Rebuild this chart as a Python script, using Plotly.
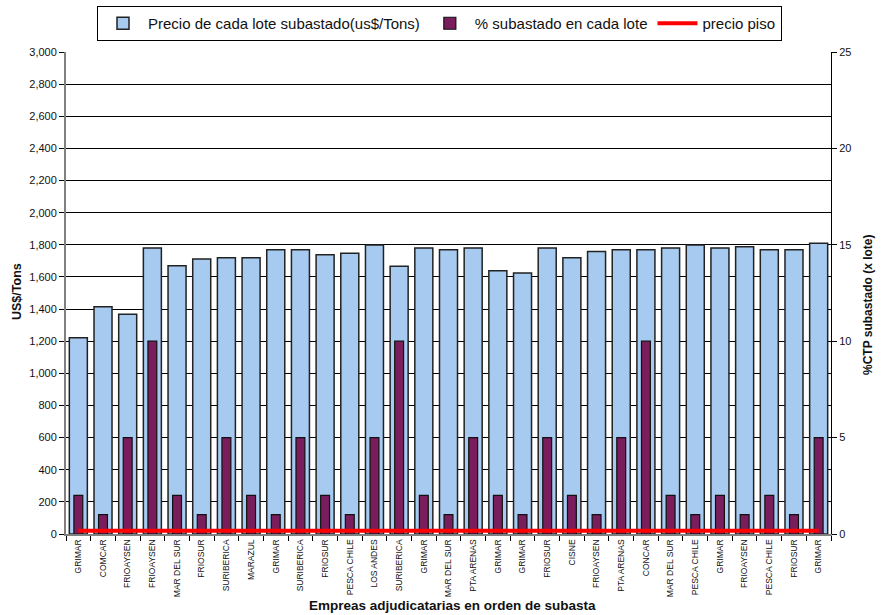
import plotly.graph_objects as go

# Auction lots in order, with the winning company of each lot
empresas = [
    "GRIMAR", "COMCAR", "FRIOAYSEN", "FRIOAYSEN", "MAR DEL SUR", "FRIOSUR",
    "SURIBERICA", "MARAZUL", "GRIMAR", "SURIBERICA", "FRIOSUR", "PESCA CHILE",
    "LOS ANDES", "SURIBERICA", "GRIMAR", "MAR DEL SUR", "PTA ARENAS", "GRIMAR",
    "GRIMAR", "FRIOSUR", "CISNE", "FRIOAYSEN", "PTA ARENAS", "CONCAR",
    "MAR DEL SUR", "PESCA CHILE", "GRIMAR", "FRIOAYSEN", "PESCA CHILE",
    "FRIOSUR", "GRIMAR",
]

# Price of each auctioned lot (US$/Tons)
precio_lote = [
    1221, 1415, 1367, 1780, 1669, 1711, 1719, 1719, 1769, 1769, 1738, 1748,
    1798, 1667, 1780, 1769, 1780, 1638, 1625, 1780, 1719, 1759, 1769, 1769,
    1780, 1798, 1780, 1788, 1769, 1769, 1809,
]

# Share of the quota auctioned in each lot (%)
pct_lote = [
    2, 1, 5, 10, 2, 1, 5, 2, 1, 5, 2, 1, 5, 10, 2, 1, 5, 2, 1, 5, 2, 1, 5, 10,
    2, 1, 2, 1, 2, 1, 5,
]

# Floor price (US$/Tons)
precio_piso = [20] * len(empresas)

x = list(range(len(empresas)))
FONT = "Liberation Sans, Arial, sans-serif"

fig = go.Figure()
fig.add_trace(go.Bar(
    x=x, y=precio_lote, name="Precio de cada lote subastado(us$/Tons)",
    width=0.73, marker=dict(color="#A6CAF0", line=dict(color="#222222", width=1.5)),
    yaxis="y",
))
fig.add_trace(go.Bar(
    x=x, y=pct_lote, name="% subastado en cada lote",
    width=0.36, marker=dict(color="#7A1D5C", line=dict(color="#111111", width=1.2)),
    yaxis="y2",
))
fig.add_trace(go.Scatter(
    x=x, y=precio_piso, name="precio piso", mode="lines",
    line=dict(color="#FF0000", width=4), yaxis="y3",
))

W, H = 881, 615
L, R, T, B = 66, 50, 52, 81
pw, ph = W - L - R, H - T - B


def px_x(v):
    return (v - L) / pw


def px_y(v):
    return (H - B - v) / ph


fig.update_layout(
    width=W, height=H,
    margin=dict(l=L, r=R, t=T, b=B, autoexpand=False),
    paper_bgcolor="white", plot_bgcolor="white",
    font=dict(family=FONT, color="#111111"),
    barmode="overlay",
    showlegend=True,
    legend=dict(
        orientation="h", x=439.5 / W, xref="container", xanchor="center",
        y=1 - 6 / H, yref="container", yanchor="top",
        bordercolor="black", borderwidth=1, bgcolor="white",
        font=dict(size=15, family=FONT), traceorder="normal",
        itemwidth=40, tracegroupgap=0,
    ),
    xaxis=dict(
        range=[-0.5, len(empresas) - 0.5], tickmode="array", tickvals=x,
        ticktext=empresas, tickangle=-90, ticks="", showgrid=False,
        tickfont=dict(size=8.5, family=FONT), zeroline=False,
        showline=True, linecolor="#808080", linewidth=2,
        minor=dict(tickmode="linear", tick0=-0.5, dtick=1, ticks="outside",
                   ticklen=5, tickcolor="black", tickwidth=1, showgrid=False),
    ),
    yaxis=dict(
        range=[0, 3000], dtick=200, tickformat=",d", showgrid=True,
        gridcolor="black", gridwidth=1, zeroline=False, showline=True,
        linecolor="#808080", linewidth=2, ticks="outside", ticklen=5,
        tickcolor="black", tickfont=dict(size=11, family=FONT),
    ),
    yaxis2=dict(
        range=[0, 25], dtick=5, overlaying="y", side="right", showgrid=False,
        zeroline=False, showline=True, linecolor="black", linewidth=1,
        ticks="outside", ticklen=5, tickcolor="black",
        tickfont=dict(size=11, family=FONT),
    ),
    yaxis3=dict(
        range=[0, 3000], overlaying="y", visible=False,
    ),
    annotations=[
        dict(text="<b>US$/Tons</b>", x=px_x(17), y=px_y(292), xref="paper",
             yref="paper", xanchor="center", yanchor="middle",
             showarrow=False, textangle=-90, font=dict(size=12.5, family=FONT)),
        dict(text="<b>%CTP subastado (x lote)</b>", x=px_x(868), y=px_y(305),
             xref="paper", yref="paper", xanchor="center", yanchor="middle",
             showarrow=False, textangle=-90, font=dict(size=12, family=FONT)),
        dict(text="<b>Empreas adjudicatarias en orden de subasta</b>",
             x=px_x(452), y=px_y(605), xref="paper", yref="paper",
             xanchor="center", yanchor="middle", showarrow=False,
             font=dict(size=13.5, family=FONT)),
    ],
)

fig.write_html("out.html")
